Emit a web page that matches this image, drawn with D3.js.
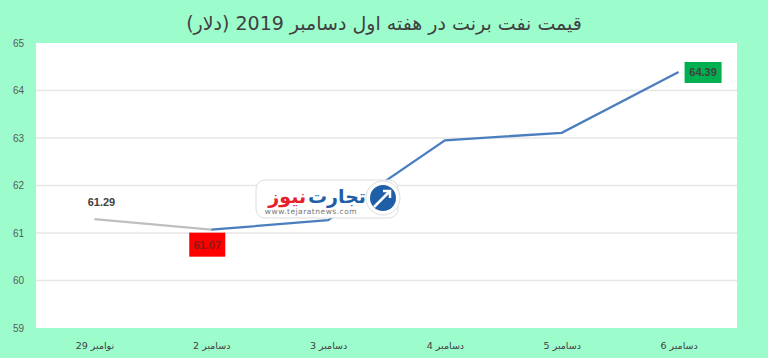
<!DOCTYPE html>
<html><head><meta charset="utf-8">
<script src="https://cdn.jsdelivr.net/npm/d3@7"></script>
<style>body{margin:0;background:#9dfccc;}svg{display:block;}</style>
</head><body>
<svg id="c" width="768" height="358"></svg>
<script>
const categories = ["29 نوامبر","2 دسامبر","3 دسامبر","4 دسامبر","5 دسامبر","6 دسامبر"];
const values = [61.29, 61.07, 61.27, 62.95, 63.11, 64.39];
const yTicks = [59,60,61,62,63,64,65];
const title = "قیمت نفت برنت در هفته اول دسامبر 2019 (دلار)";

const svg = d3.select("#c");
const L=36, R=737, T=43, B=328;
svg.append("rect").attr("width",768).attr("height",358).attr("fill","#9dfccc");
svg.append("rect").attr("x",L).attr("y",T).attr("width",R-L).attr("height",B-T).attr("fill","#ffffff");

const x = d3.scalePoint().domain(categories).range([L,R]).padding(0.5);
const y = d3.scaleLinear().domain([59,65]).range([B,T]);

// gridlines
svg.append("g").selectAll("line").data(yTicks.slice(1,-1)).join("line")
  .attr("x1",L).attr("x2",R).attr("y1",d=>y(d)).attr("y2",d=>y(d))
  .attr("stroke","#e6e6e6").attr("stroke-width",1.3);

// y axis labels
const ya = svg.append("g").attr("transform",`translate(${L-8},0)`)
  .call(d3.axisLeft(y).tickValues(yTicks).tickFormat(d3.format("d")).tickSize(0).tickPadding(4));
ya.select(".domain").remove();
ya.selectAll("text").attr("font-family","Liberation Sans Narrow, Liberation Sans, Arial, sans-serif").attr("font-size",10).attr("fill","#595959");

// x axis labels
const xa = svg.append("g").attr("transform",`translate(0,${B+8})`)
  .call(d3.axisBottom(x).tickSize(0).tickPadding(6));
xa.select(".domain").remove();
xa.selectAll("text").attr("font-family","DejaVu Sans, sans-serif").attr("font-size",9.5).attr("fill","#404040");

// title
svg.append("text").attr("x",384).attr("y",30).attr("text-anchor","middle")
  .attr("font-family","DejaVu Sans, Noto Sans, sans-serif").attr("font-size",19).attr("fill","#404040")
  .attr("direction","rtl").text(title);

const pts = categories.map((c,i)=>[x(c), y(values[i])]);
const line = d3.line();
svg.append("path").attr("d",line(pts.slice(0,2))).attr("fill","none").attr("stroke","#bfbfbf").attr("stroke-width",2.3);
svg.append("path").attr("d",line(pts.slice(1))).attr("fill","none").attr("stroke","#4a7ebf").attr("stroke-width",2.3);

// logo watermark
const lg = svg.append("g");
lg.append("rect").attr("x",256).attr("y",180).attr("width",142).attr("height",38).attr("rx",9)
  .attr("fill","#ffffff").attr("stroke","#dddddd").attr("stroke-width",1);
lg.append("circle").attr("cx",383).attr("cy",198).attr("r",17).attr("fill","#ffffff").attr("stroke","#dddddd");
lg.append("circle").attr("cx",383).attr("cy",198).attr("r",13).attr("fill","#1f5fa8");
lg.append("path").attr("d","M374,207 L389,192 M383,191 L390,191 L390,198").attr("stroke","#ffffff").attr("stroke-width",2.5).attr("fill","none");
const lt = lg.append("text").attr("x",366).attr("y",203).attr("text-anchor","start").attr("direction","rtl")
  .attr("font-family","DejaVu Sans, sans-serif").attr("font-size",19).attr("font-weight","bold");
lt.append("tspan").attr("fill","#1f5fa8").text("تجارت");
lt.append("tspan").attr("fill","#e8202a").text("\u200Aنیوز");
lg.append("text").attr("x",311).attr("y",214).attr("text-anchor","middle")
  .attr("font-family","DejaVu Sans, sans-serif").attr("font-size",7.5).attr("fill","#777777").attr("letter-spacing",0.5)
  .text("www.tejaratnews.com");

// data labels
svg.append("text").attr("x",pts[0][0]+7).attr("y",pts[0][1]-13).attr("text-anchor","middle")
  .attr("font-family","Liberation Sans, Arial, sans-serif").attr("font-size",11).attr("font-weight","bold").attr("fill","#404040")
  .text(values[0].toFixed(2));
svg.append("rect").attr("x",pts[1][0]-22).attr("y",pts[1][1]+3).attr("width",36).attr("height",24).attr("fill","#ff0000");
svg.append("text").attr("x",pts[1][0]-4).attr("y",pts[1][1]+19).attr("text-anchor","middle")
  .attr("font-family","Liberation Sans, Arial, sans-serif").attr("font-size",11).attr("font-weight","bold").attr("fill","#8b1a1a")
  .text(values[1].toFixed(2));
svg.append("rect").attr("x",pts[5][0]+6).attr("y",pts[5][1]-10).attr("width",37).attr("height",21).attr("fill","#00b050");
svg.append("text").attr("x",pts[5][0]+24.5).attr("y",pts[5][1]+4).attr("text-anchor","middle")
  .attr("font-family","Liberation Sans, Arial, sans-serif").attr("font-size",11).attr("font-weight","bold").attr("fill","#404040")
  .text(values[5].toFixed(2));
</script>
</body></html>
